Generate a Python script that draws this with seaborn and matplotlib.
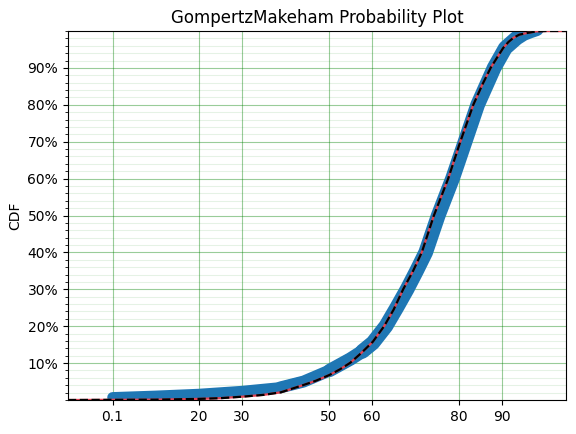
import seaborn as sns
import matplotlib.pyplot as plt
import matplotlib.ticker as mticker

data_x = [0.1, 10, 20, 30, 38.8, 44.2, 50.2, 55, 57.8, 60.2, 63.2, 65.7, 68.1,
          70.3, 72.4, 75.3, 78.6, 81.5, 84.4, 86.3, 88.2, 90.8, 93.4, 95, 96.5,
          98]
data_F = [0.007, 0.011, 0.016, 0.024, 0.034, 0.050, 0.080, 0.111, 0.132, 0.155,
          0.20, 0.25, 0.30, 0.35, 0.40, 0.50, 0.60, 0.70, 0.80, 0.85, 0.90,
          0.954, 0.981, 0.993, 1.0, 1.006]

# fitted model cdf
fit_x = [-10.2, 0, 10, 20, 25, 30, 35, 39, 44, 47, 50.2, 52.6, 55, 57.5, 60.2,
         62.8, 65, 67.2, 69.5, 71.5, 74.3, 77.6, 80.4, 83.4, 85.5, 87.4, 89,
         90.3, 91.5, 92.6, 94, 96, 98, 100.3, 104.8]
fit_F = [0.0, 0.0005, 0.001, 0.003, 0.005, 0.009, 0.014, 0.021, 0.040, 0.052,
         0.068, 0.083, 0.101, 0.127, 0.158, 0.20, 0.245, 0.30, 0.35, 0.40,
         0.50, 0.60, 0.70, 0.80, 0.855, 0.90, 0.93, 0.954, 0.97, 0.981, 0.99,
         0.995, 0.999, 1.0, 1.0]

x_ticks = [0.1, 20, 30, 50, 60, 80, 90]
y_ticks = [0.1, 0.2, 0.3, 0.4, 0.5, 0.6, 0.7, 0.8, 0.9]

fig, ax = plt.subplots(figsize=(5.76, 4.34), dpi=100)
fig.subplots_adjust(left=0.118, right=0.9826, top=0.9286, bottom=0.0783)

# the many data points overlap into a band, thinner where the curve is flat
blue = '#1f77b4'
pieces = [(0, 6, 7.7), (4, 8, 8.6), (6, 10, 9.6), (8, len(data_x), 10.6)]
for a, b, w in pieces:
    sns.lineplot(x=data_x[a:b], y=data_F[a:b], ax=ax, color=blue, lw=w,
                 sort=False, estimator=None, solid_capstyle='round', zorder=2)

sns.lineplot(x=fit_x, y=fit_F, ax=ax, color='#e04050', lw=1.6, sort=False,
             estimator=None, zorder=3)
sns.lineplot(x=fit_x, y=fit_F, ax=ax, color='black', lw=1.6, sort=False,
             estimator=None, zorder=4)
ax.lines[-1].set_linestyle((0, (3.7, 1.6)))

ax.set_xlim(-10.2, 104.8)
ax.set_ylim(0, 1)
ax.set_xticks(x_ticks)
ax.set_xticklabels([str(t) for t in x_ticks])
ax.set_yticks(y_ticks)
ax.set_yticklabels(['{:.0f}%'.format(t * 100) for t in y_ticks])
ax.yaxis.set_minor_locator(mticker.MultipleLocator(0.02))
ax.grid(True, which='major', axis='both', color='g', alpha=0.4, lw=0.8)
ax.grid(True, which='minor', axis='y', color='g', alpha=0.1, lw=0.8)
ax.set_axisbelow(True)

ax.set_title('GompertzMakeham Probability Plot')
ax.set_ylabel('CDF')

plt.savefig('out.png', dpi=100)
